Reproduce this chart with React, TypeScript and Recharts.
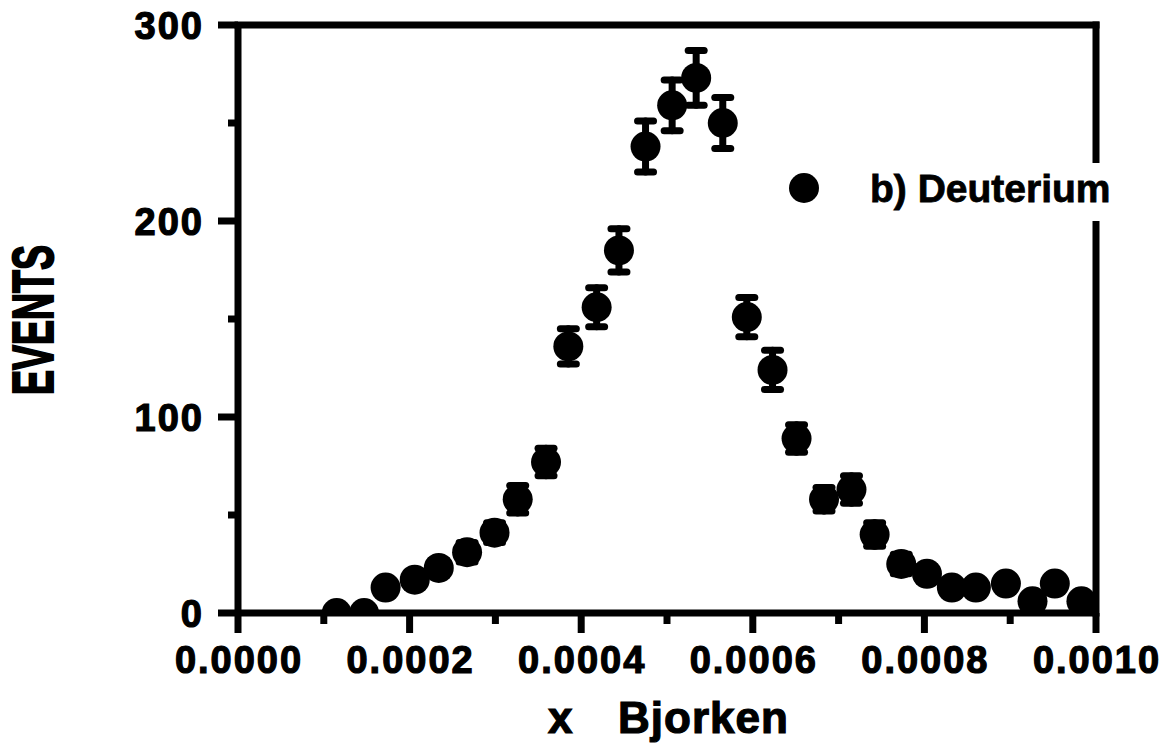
import React from "react";
import {
  ScatterChart,
  Scatter,
  XAxis,
  YAxis,
  ErrorBar,
  ReferenceLine,
  Legend,
} from "recharts";

// x Bjorken bin centres
const xValues = [
  0.000115, 0.000147, 0.000172, 0.000206, 0.000234, 0.000267, 0.000299, 0.000326,
  0.000359, 0.000385, 0.000418, 0.000444, 0.000475, 0.000506, 0.000534, 0.000565,
  0.000593, 0.000623, 0.000651, 0.000683, 0.000715, 0.000742, 0.000773, 0.000803,
  0.000832, 0.00086, 0.000895, 0.000926, 0.000952, 0.000983,
];
// events per bin
const events = [
  0, 0, 13, 17, 23, 31, 41, 58, 77, 136, 156, 185, 238, 259, 273, 250, 151, 124, 89,
  58, 63, 40, 25, 20, 13, 13, 15, 6, 15, 6,
];
// statistical errors
const errors = [
  0, 0, 3, 4, 4, 5, 5, 7, 7, 9, 10, 11, 13, 13, 14, 13, 10, 10, 7, 6, 7, 6, 5, 4, 3,
  3, 3, 2, 3, 2,
];

const xTickValues = [
  0, 0.0001, 0.0002, 0.0003, 0.0004, 0.0005, 0.0006, 0.0007, 0.0008, 0.0009, 0.001,
];
const xTickLabels = [
  "0.0000", "", "0.0002", "", "0.0004", "", "0.0006", "", "0.0008", "", "0.0010",
];
const yTickValues = [0, 50, 100, 150, 200, 250, 300];
const yTickLabels = ["0", "", "100", "", "200", "", "300"];

const seriesName = "b) Deuterium";
const xTitleA = "x";
const xTitleB = "Bjorken";
const yTitle = "EVENTS";

const data = xValues.map((x, i) => ({ x, y: events[i], err: errors[i] }));

const FONT = "'Liberation Sans', Arial, Helvetica, sans-serif";

const XTick = (props: any) => {
  const { x, y, payload } = props;
  const idx = xTickValues.indexOf(payload.value);
  const label = idx >= 0 ? xTickLabels[idx] : "";
  const major = label !== "";
  return (
    <g>
      <line x1={x} x2={x} y1={y} y2={y + (major ? 20 : 11)} stroke="#000" strokeWidth={7} />
      {major && (
        <text
          x={x + 1}
          y={y + 60}
          textAnchor="middle"
          fontFamily={FONT}
          fontWeight="bold"
          fontSize={38}
          letterSpacing={2}
          fill="#000"
          stroke="#000"
          strokeWidth={1.2}
        >
          {label}
        </text>
      )}
    </g>
  );
};

const YTick = (props: any) => {
  const { x, y, payload } = props;
  const idx = yTickValues.indexOf(payload.value);
  const label = idx >= 0 ? yTickLabels[idx] : "";
  const major = label !== "";
  return (
    <g>
      <line x1={x - (major ? 20 : 10)} x2={x} y1={y} y2={y} stroke="#000" strokeWidth={7} />
      {major && (
        <text
          x={x - 34}
          y={y}
          dy="0.36em"
          textAnchor="end"
          fontFamily={FONT}
          fontWeight="bold"
          fontSize={38}
          letterSpacing={2}
          fill="#000"
          stroke="#000"
          strokeWidth={1.2}
        >
          {label}
        </text>
      )}
    </g>
  );
};

const YLabel = () => (
  <text
    x={32}
    y={320}
    transform="rotate(-90 32 320)"
    textAnchor="middle"
    dominantBaseline="central"
    fontFamily={FONT}
    fontWeight="bold"
    fontSize={58}
    textLength={150}
    lengthAdjust="spacingAndGlyphs"
    fill="#000"
    stroke="#000"
    strokeWidth={2}
  >
    {yTitle}
  </text>
);

const XLabel = () => (
  <text
    y={733}
    fontFamily={FONT}
    fontWeight="bold"
    fontSize={44}
    fill="#000"
    stroke="#000"
    strokeWidth={1.2}
  >
    <tspan x={548}>{xTitleA}</tspan>
    <tspan x={618} letterSpacing={1}>{xTitleB}</tspan>
  </text>
);

const Dot = (props: any) => {
  const { cx, cy } = props;
  if (cx == null || cy == null) return null;
  return <circle cx={cx} cy={cy} r={15} fill="#000" />;
};

const LegendContent = (props: any) => {
  const payload = props.payload || [];
  const name = payload.length ? payload[0].value : seriesName;
  return (
    <div style={{ background: "#fff", width: 340, height: 58, position: "relative", zIndex: 10 }}>
      <svg width={340} height={58} style={{ display: "block" }}>
        <rect x={0} y={0} width={340} height={58} fill="#fff" />
        <circle cx={22} cy={25} r={15} fill="#000" />
        <text
          x={88}
          y={39}
          fontFamily={FONT}
          fontWeight="bold"
          fontSize={39}
          fill="#000"
          stroke="#000"
          strokeWidth={0.8}
        >
          {name}
        </text>
      </svg>
    </div>
  );
};

export default function App() {
  return (
    <div style={{ position: "absolute", left: 0, top: 0, width: 1165, height: 745, background: "#fff" }}>
      <ScatterChart
        width={1165}
        height={745}
        margin={{ top: 25, right: 69, bottom: 0, left: 0 }}
      >
        <XAxis
          type="number"
          dataKey="x"
          domain={[0, 0.001]}
          ticks={xTickValues}
          interval={0}
          tick={<XTick />}
          tickLine={false}
          tickSize={0}
          tickMargin={0}
          height={132}
          axisLine={{ stroke: "#000", strokeWidth: 7 }}
          label={<XLabel />}
          allowDataOverflow
        />
        <YAxis
          type="number"
          dataKey="y"
          domain={[0, 300]}
          ticks={yTickValues}
          interval={0}
          tick={<YTick />}
          tickLine={false}
          tickSize={0}
          tickMargin={0}
          width={238}
          axisLine={{ stroke: "#000", strokeWidth: 7 }}
          label={<YLabel />}
          allowDataOverflow
        />
        <ReferenceLine y={300} stroke="#000" strokeWidth={7} strokeLinecap="square" />
        <ReferenceLine x={0.001} stroke="#000" strokeWidth={7} strokeLinecap="square" />
        <Scatter
          name={seriesName}
          data={data}
          fill="#000"
          shape={<Dot />}
          isAnimationActive={false}
        >
          <ErrorBar
            dataKey="err"
            direction="y"
            width={8}
            stroke="#000"
            strokeWidth={7}
            strokeLinecap="round"
            isAnimationActive={false}
          />
        </Scatter>
        <Legend
          layout="vertical"
          align="center"
          verticalAlign="middle"
          wrapperStyle={{ left: 782, top: 163, width: 340, height: 58, zIndex: 10 }}
          content={<LegendContent />}
        />
      </ScatterChart>
    </div>
  );
}
